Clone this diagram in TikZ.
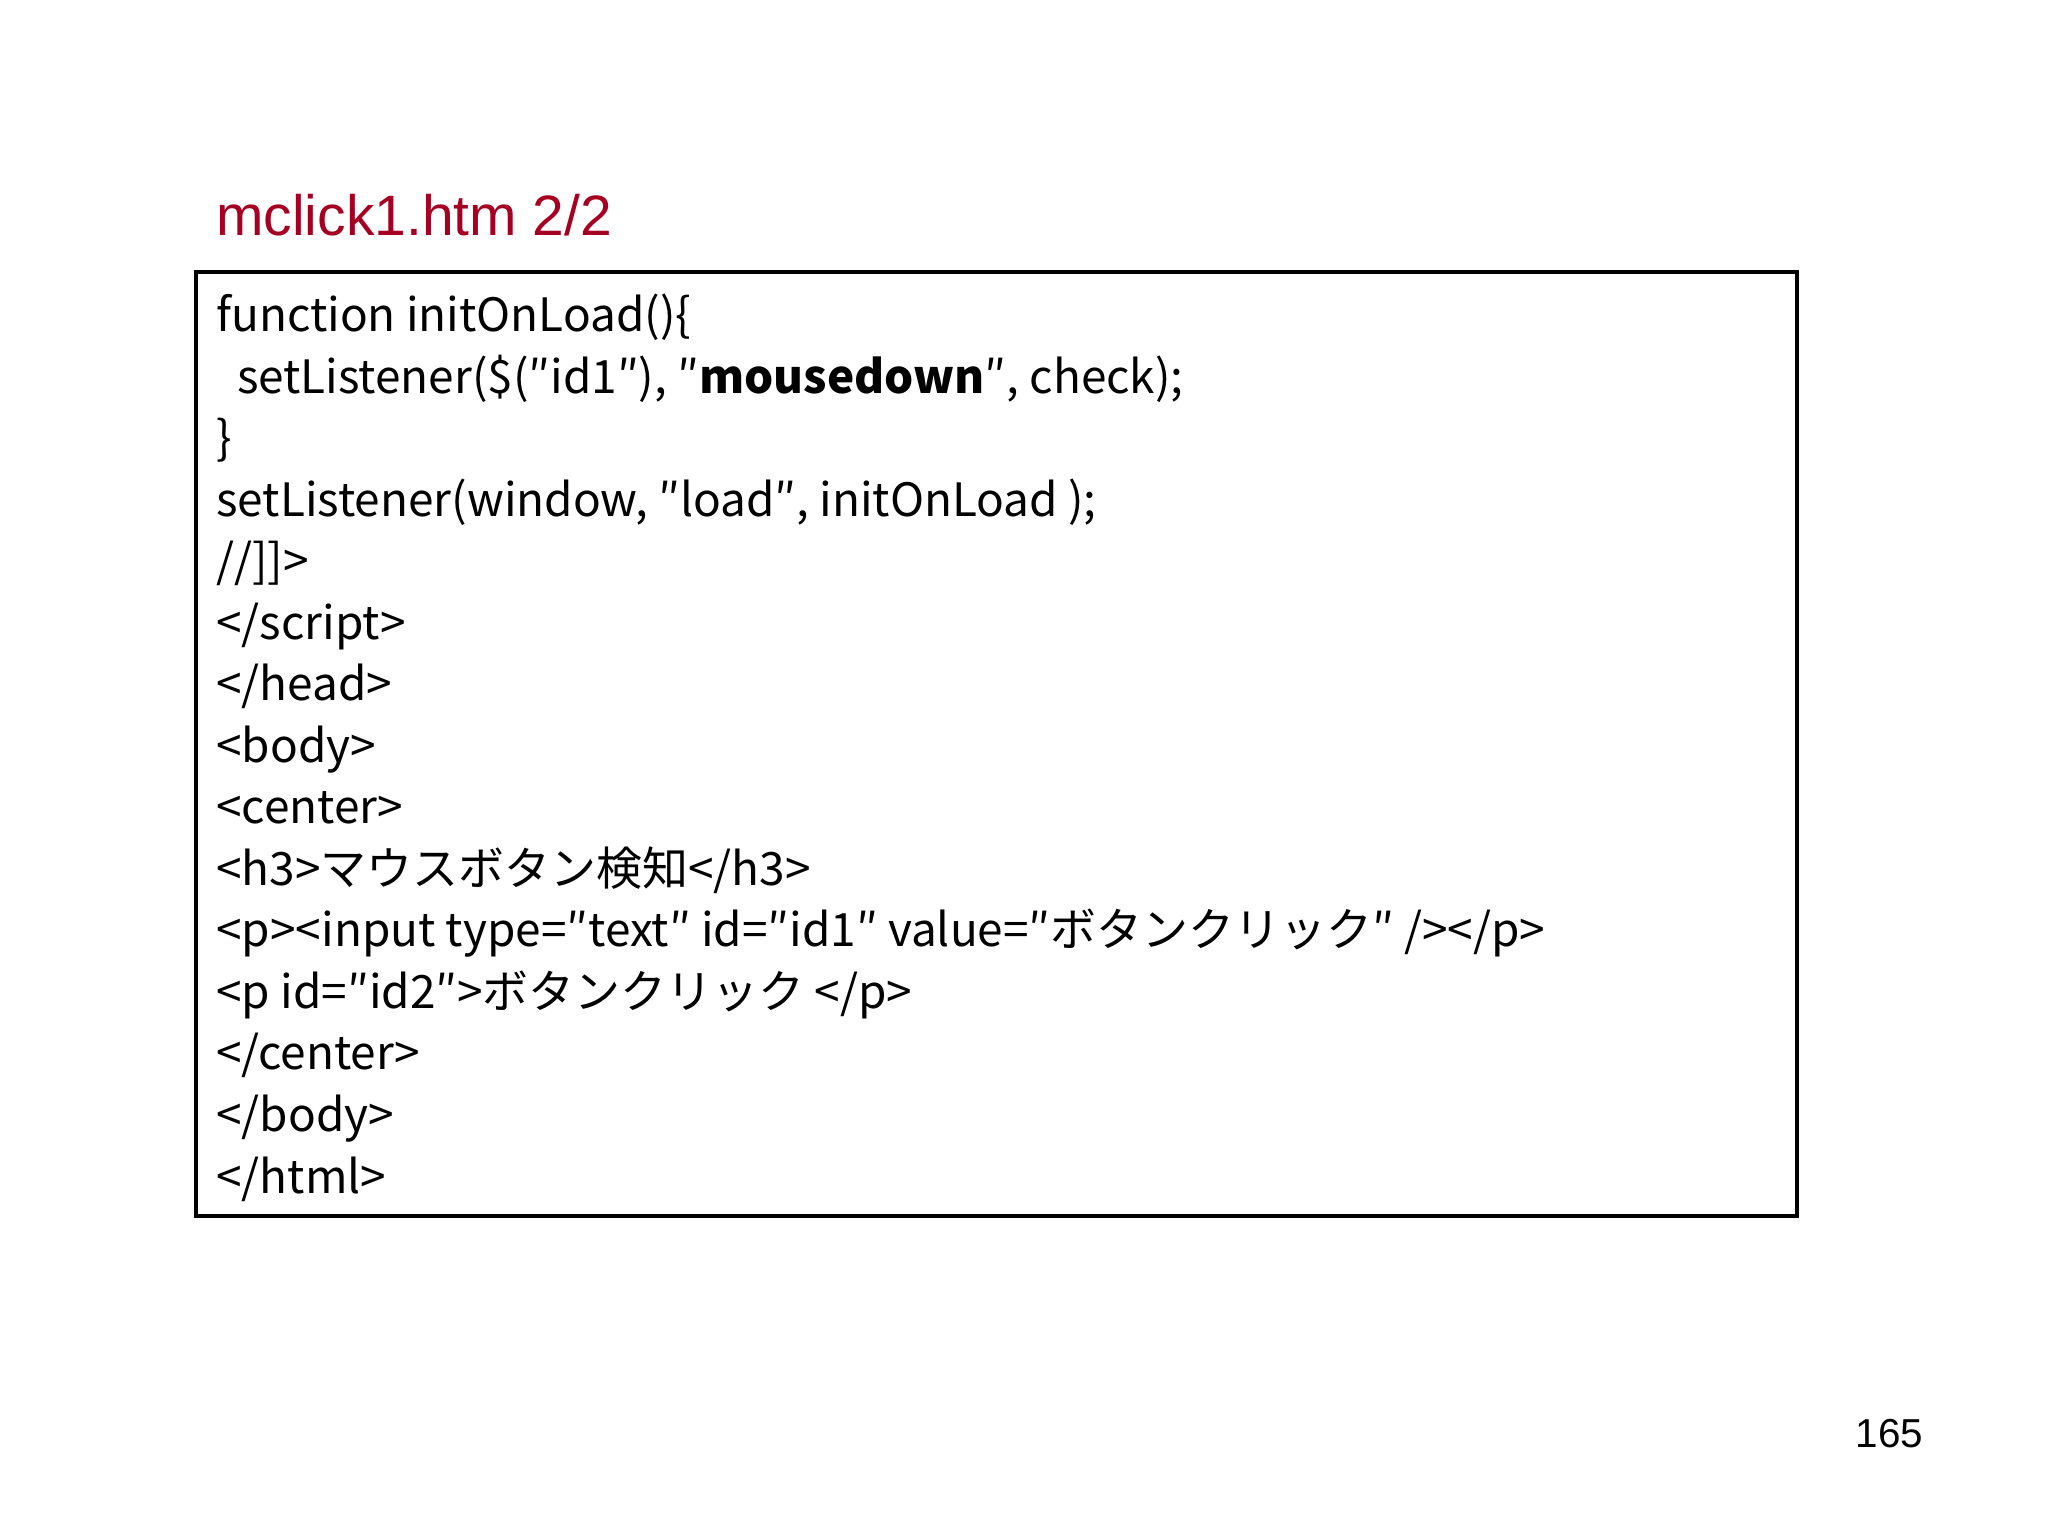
\documentclass[tikz,border=0pt]{standalone}
\usepackage{fontspec}
\setmainfont{Liberation Sans}
\newfontfamily\jp{Noto Sans CJK JP}
\definecolor{titlered}{RGB}{165,0,33}
\begin{document}
\begin{tikzpicture}[x=0.01cm,y=-0.01cm,
  codeline/.style={anchor=base west,inner sep=0,font=\jp\fontsize{10pt}{11pt}\selectfont}]
\useasboundingbox (0,0) rectangle (1568,1176);
\node[anchor=base west,inner sep=0,text=titlered,font=\fontsize{12.4pt}{14pt}\selectfont] (title) at (165,180) {mclick1.htm 2/2};
\draw[line width=0.8pt] (150,208) rectangle (1376,931);
\foreach \t [count=\i from 0] in {
 {function initOnLoad()\{},
 {\ \ setListener(\$(″id1″), ″\textbf{mousedown}″, check);},
 {\}},
 {setListener(window, ″load″, initOnLoad );},
 {//]]>},
 {</script>},
 {</head>},
 {<body>},
 {<center>},
 {<h3>マウスボタン検知</h3>},
 {<p><input type=″text″ id=″id1″ value=″ボタンクリック″ /></p>},
 {<p id=″id2″>ボタンクリック </p>},
 {</center>},
 {</body>},
 {</html>}}
 \node[codeline] (l\i) at (165,{254+47.1*\i}) {\t};
\node[anchor=base east,inner sep=0,font=\fontsize{8.8pt}{10pt}\selectfont] (pg) at (1473,1108) {165};
\end{tikzpicture}
\end{document}
